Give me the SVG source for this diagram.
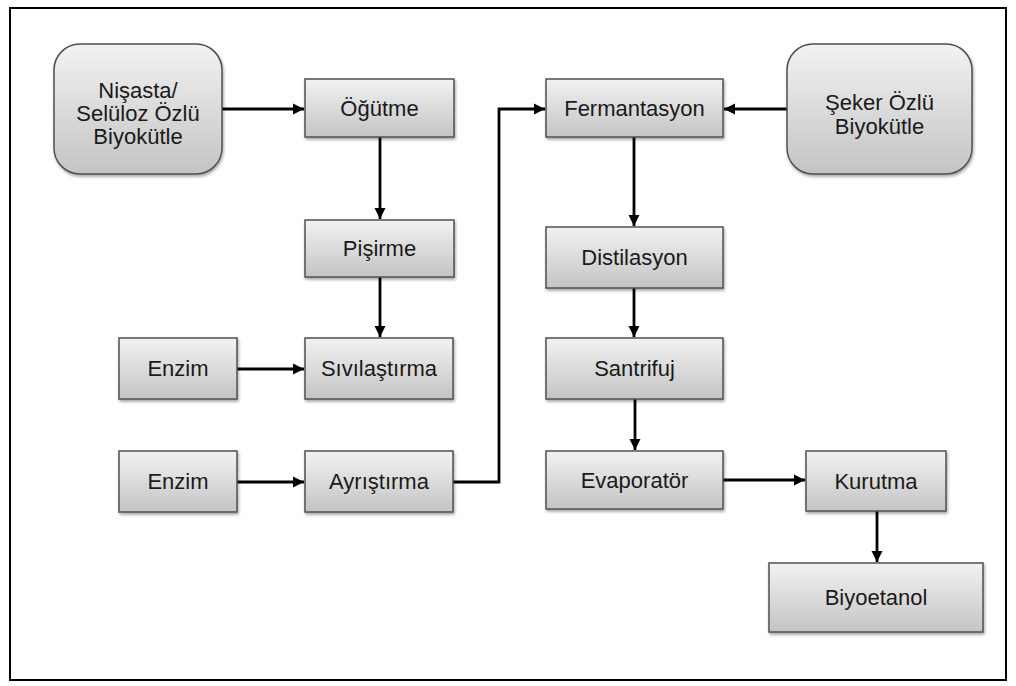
<svg xmlns="http://www.w3.org/2000/svg" width="1016" height="686" viewBox="0 0 1016 686">
<defs>
<linearGradient id="g" x1="0" y1="0" x2="0" y2="1">
<stop offset="0" stop-color="#f2f2f2"/>
<stop offset="1" stop-color="#c4c4c4"/>
</linearGradient>
<filter id="sh" x="-10%" y="-10%" width="130%" height="140%">
<feDropShadow dx="1" dy="2" stdDeviation="1.5" flood-color="#000" flood-opacity="0.35"/>
</filter>
<marker id="ah" viewBox="0 0 10 10" refX="10" refY="5" markerWidth="4" markerHeight="4" orient="auto" markerUnits="strokeWidth">
<path d="M0,0 L10,5 L0,10 z" fill="#000"/>
</marker>
</defs>
<style>
.b{fill:url(#g);stroke:#505050;stroke-width:1.5;filter:url(#sh)}
.t{font-family:"Liberation Sans",Arial,sans-serif;font-size:22px;fill:#1a1a1a;text-anchor:middle}
.c{fill:none;stroke:#000;stroke-width:2.8;marker-end:url(#ah)}
</style>
<rect x="0" y="0" width="1016" height="686" fill="#fff"/>
<rect x="10" y="8" width="996" height="672" fill="none" stroke="#000" stroke-width="2"/>
<g id="connectors">
<path class="c" d="M222,109 H304"/>
<path class="c" d="M380,137 V219"/>
<path class="c" d="M380,277 V337"/>
<path class="c" d="M237,369 H304"/>
<path class="c" d="M237,482 H304"/>
<path class="c" d="M453,482 H499 V109 H545"/>
<path class="c" d="M787,109 H724"/>
<path class="c" d="M634,137 V226"/>
<path class="c" d="M634,288 V337"/>
<path class="c" d="M635,399 V450"/>
<path class="c" d="M723,480 H805"/>
<path class="c" d="M877,511 V562"/>
</g>
<g id="n_nisasta"><rect class="b" x="54" y="44" width="168" height="130" rx="26"/>
<text class="t" x="138" y="98">Nişasta/</text><text class="t" x="138" y="121">Selüloz Özlü</text><text class="t" x="138" y="144">Biyokütle</text></g>
<g id="n_ogutme"><rect class="b" x="305" y="79" width="149" height="58"/><text class="t" x="379.5" y="116">Öğütme</text></g>
<g id="n_pisirme"><rect class="b" x="305" y="220" width="149" height="57"/><text class="t" x="379.5" y="256">Pişirme</text></g>
<g id="n_enzim1"><rect class="b" x="119" y="338" width="118" height="61"/><text class="t" x="178" y="376">Enzim</text></g>
<g id="n_sivilastirma"><rect class="b" x="305" y="338" width="148" height="61"/><text class="t" x="379" y="376">Sıvılaştırma</text></g>
<g id="n_enzim2"><rect class="b" x="119" y="451" width="118" height="61"/><text class="t" x="178" y="489">Enzim</text></g>
<g id="n_ayristirma"><rect class="b" x="305" y="451" width="148" height="61"/><text class="t" x="379" y="489">Ayrıştırma</text></g>
<g id="n_fermantasyon"><rect class="b" x="546" y="79" width="177" height="58"/><text class="t" x="634.5" y="116">Fermantasyon</text></g>
<g id="n_seker"><rect class="b" x="787" y="44" width="185" height="130" rx="26"/>
<text class="t" x="879.5" y="110">Şeker Özlü</text><text class="t" x="879.5" y="134">Biyokütle</text></g>
<g id="n_distilasyon"><rect class="b" x="546" y="227" width="177" height="61"/><text class="t" x="634.5" y="265">Distilasyon</text></g>
<g id="n_santrifuj"><rect class="b" x="546" y="338" width="177" height="61"/><text class="t" x="634.5" y="376">Santrifuj</text></g>
<g id="n_evaporator"><rect class="b" x="546" y="451" width="177" height="58"/><text class="t" x="634.5" y="488">Evaporatör</text></g>
<g id="n_kurutma"><rect class="b" x="806" y="451" width="140" height="60"/><text class="t" x="876" y="489">Kurutma</text></g>
<g id="n_biyoetanol"><rect class="b" x="769" y="563" width="214" height="69"/><text class="t" x="876" y="605">Biyoetanol</text></g>
</svg>
